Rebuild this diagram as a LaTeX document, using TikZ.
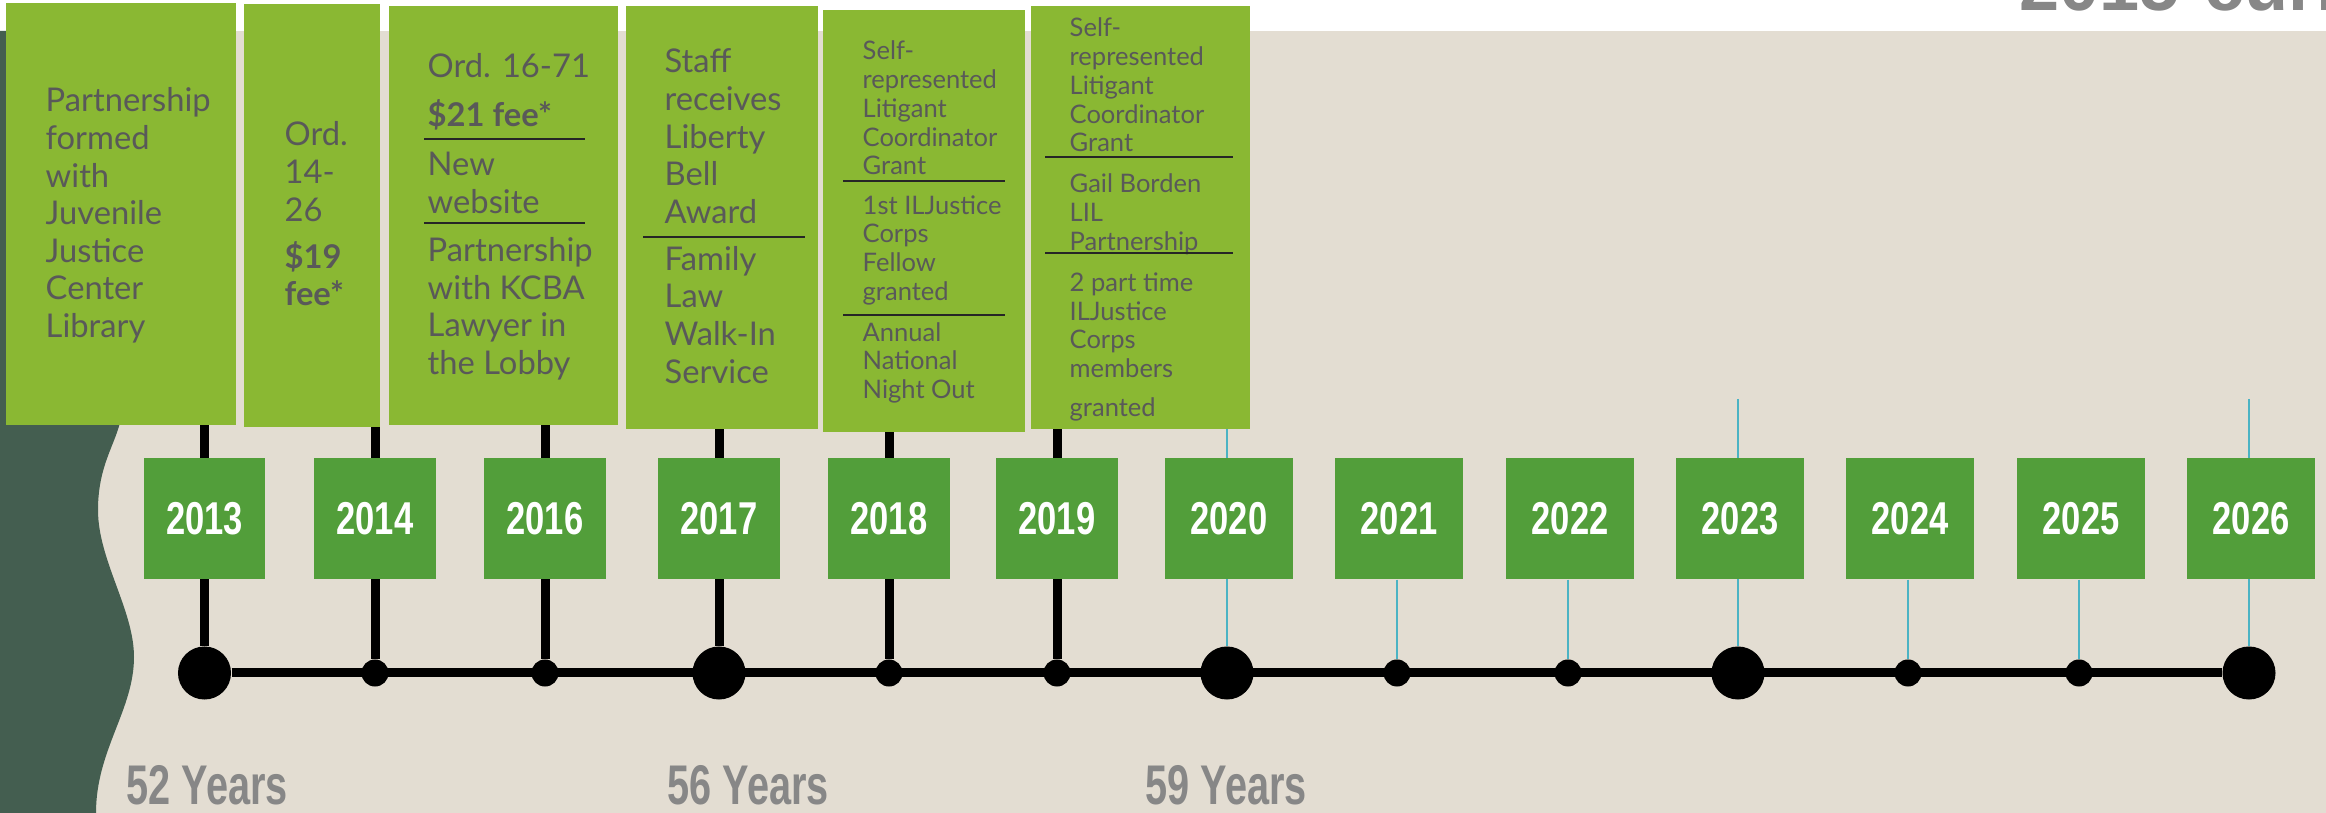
\documentclass[tikz,border=0pt]{standalone}
\usepackage{fontspec}
\usepackage{tikz}
\newfontfamily\evfont{Lato}
\newfontfamily\yearfont{Liberation Sans}[FakeStretch=0.75]
\newfontfamily\agefont{Liberation Sans}[FakeStretch=0.71]
\newfontfamily\titlefont{Liberation Sans}
\definecolor{evgreen}{HTML}{8AB833}
\definecolor{yrgreen}{HTML}{529E3A}
\definecolor{paper}{HTML}{E3DDD2}
\definecolor{slate}{HTML}{445E50}
\definecolor{aqua}{HTML}{4BB3C4}
\definecolor{inkgray}{HTML}{595959}
\definecolor{agegray}{HTML}{878787}
\newcommand\evlines[1]{\parbox[t]{3cm}{#1}}
\tikzset{
  evbox/.style={rectangle, fill=evgreen, inner sep=0},
  evtext/.style={text=inkgray, inner sep=0, anchor=base west, font=\evfont\fontsize{9.3}{10.67}\selectfont},
  evsmall/.style={evtext, font=\evfont\fontsize{7.26}{8.17}\selectfont},
  evrule/.style={line width=0.027cm, draw=black!85},
  yearbox/.style={rectangle, fill=yrgreen, text=white, minimum height=1.21cm, inner sep=0, font=\yearfont\bfseries\fontsize{13.1}{15}\selectfont},
  bigdot/.style={circle, fill=black, minimum size=0.53cm, inner sep=0},
  smalldot/.style={circle, fill=black, minimum size=0.27cm, inner sep=0},
  blackstem/.style={line width=0.09cm, black},
  aquastem/.style={line width=0.02cm, aqua},
  tline/.style={line width=0.09cm, black},
  agetext/.style={text=agegray, inner sep=0, anchor=base west, font=\agefont\bfseries\fontsize{15.9}{18}\selectfont},
  titletext/.style={text=agegray, inner sep=0, anchor=base west, font=\titlefont\bfseries\fontsize{20.5}{24}\selectfont}
}
\begin{document}
\begin{tikzpicture}[x=0.01cm,y=-0.01cm]
\useasboundingbox (0,0) rectangle (2326,813);
\clip (0,0) rectangle (2326,813);
\fill[white] (0,0) rectangle (2326,813);
\fill[paper] (0,31) rectangle (2326,813);
\fill[slate] (0,31) -- (122,31) -- (122,410) .. controls (120,440) and (98,460) .. (98,510)
  .. controls (98,560) and (134,610) .. (134,657) .. controls (134,710) and (96,750) .. (96,813) -- (0,813) -- cycle;
\node[titletext] (title) at (2019,10.5) {2015-current};

\foreach \yr/\x/\kind in {2013/204.5/bigdot, 2014/375/smalldot, 2016/545/smalldot, 2017/719/bigdot, 2018/889/smalldot, 2019/1057/smalldot, 2020/1227/bigdot, 2021/1397/smalldot, 2022/1568/smalldot, 2023/1738/bigdot, 2024/1908/smalldot, 2025/2079/smalldot, 2026/2249/bigdot}
  \node[\kind] (d\yr) at (\x,673) {};
\draw[tline] (d2013) -- (d2026);
\foreach \yr/\x in {2013/204.5, 2014/375, 2016/545, 2017/719, 2018/889, 2019/1057}
  \draw[blackstem] (\x,400) coordinate (s\yr) -- (d\yr);
\foreach \yr/\x in {2020/1227, 2023/1738, 2026/2249}
  \draw[aquastem] (\x,399) coordinate (s\yr) -- (d\yr);

\foreach \yr/\x/\w in {2013/204.5/1.21cm, 2014/375/1.21cm, 2016/545/1.21cm, 2017/719/1.21cm, 2018/889/1.21cm, 2019/1057/1.21cm, 2020/1229/1.27cm, 2021/1399/1.27cm, 2022/1570/1.27cm, 2023/1740/1.27cm, 2024/1910/1.27cm, 2025/2081/1.27cm, 2026/2251/1.27cm}
  \node[yearbox, minimum width=\w] (y\yr) at (\x,518.5) {\yr};
\foreach \yr in {2021, 2022, 2024, 2025}
  \draw[aquastem] (y\yr.south -| d\yr) -- (d\yr);

\node[evbox, minimum width=2.30cm, minimum height=4.22cm] (boxA) at (121,214) {};
\node[evbox, minimum width=1.36cm, minimum height=4.23cm] (boxB) at (312,215.5) {};
\node[evbox, minimum width=2.29cm, minimum height=4.19cm] (boxC) at (503.5,215.5) {};
\node[evbox, minimum width=1.92cm, minimum height=4.23cm] (boxD) at (722,217.5) {};
\node[evbox, minimum width=2.02cm, minimum height=4.22cm] (boxE) at (924,221) {};
\node[evbox, minimum width=2.19cm, minimum height=4.23cm] (boxF) at (1140.5,217.5) {};

\node[evtext] (txtA) at (45,112) {\evlines{Partnership\\formed\\with\\Juvenile\\Justice\\Center\\Library}};
\node[evtext] (txtB) at (284,146) {\evlines{Ord.\\14-\\26\\[2.7pt]\textbf{\$19}\\\textbf{fee*}}};
\node[evtext] (txtC) at (427,78) {\evlines{Ord. 16-71\\[3.2pt]\textbf{\$21 fee*}\\[3.2pt]New\\website\\[3.2pt]Partnership\\with KCBA\\Lawyer in\\the Lobby}};
\draw[evrule, line width=0.012cm] (424,139) -- (585,139) (424,223) -- (585,223);
\node[evtext] (txtD) at (664,73) {\evlines{Staff\\receives\\Liberty\\Bell\\Award\\[2.8pt]Family\\Law\\Walk-In\\Service}};
\draw[evrule] (643,237) -- (805,237);
\node[evsmall] (txtE) at (862,60) {\evlines{Self-\\represented\\Litigant\\Coordinator\\Grant\\[3pt]1st ILJustice\\Corps\\Fellow\\granted\\[3.4pt]Annual\\National\\Night Out}};
\draw[evrule] (843,181) -- (1005,181) (843,315) -- (1005,315);
\node[evsmall] (txtF) at (1069,37) {\evlines{Self-\\represented\\Litigant\\Coordinator\\Grant\\[3.5pt]Gail Borden\\LIL\\Partnership\\[3.5pt]2 part time\\ILJustice\\Corps\\members\\[3pt]granted}};
\draw[evrule] (1045,157) -- (1233,157) (1045,253) -- (1233,253);

\node[agetext] (age52) at (126,805) {52 Years};
\node[agetext] (age56) at (667,805) {56 Years};
\node[agetext] (age59) at (1145,805) {59 Years};
\end{tikzpicture}
\end{document}
